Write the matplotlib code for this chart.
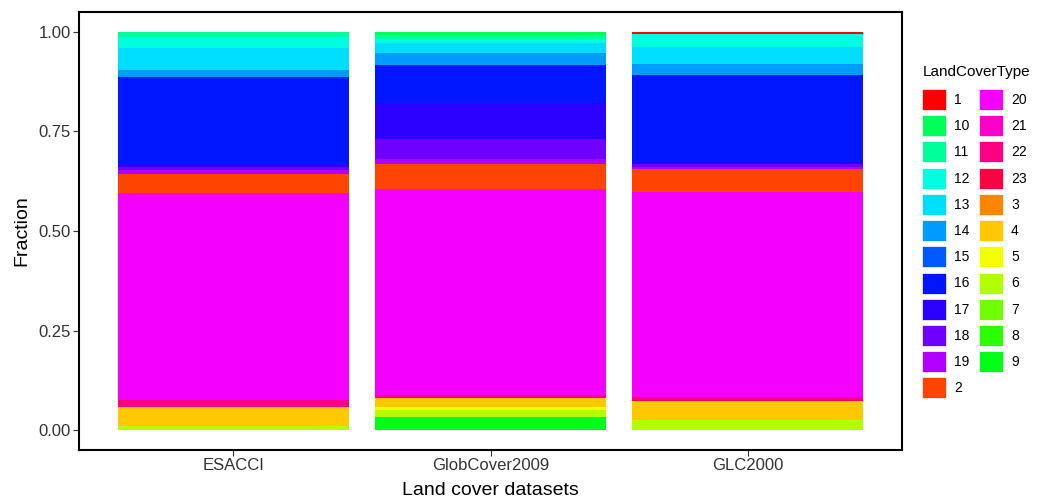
import matplotlib
matplotlib.use("Agg")
import matplotlib.pyplot as plt
from matplotlib.colors import hsv_to_rgb
from matplotlib.patches import Patch

plt.rcParams['font.family'] = ['Liberation Sans', 'DejaVu Sans']

datasets = ["ESACCI", "GlobCover2009", "GLC2000"]
types = list(range(1, 24))  # land cover types 1..23
esacci = [0, 0.048, 0, 0.048, 0, 0.011, 0, 0, 0, 0, 0.012, 0.028, 0.055, 0.019, 0,
          0.217, 0.008, 0.009, 0.008, 0.520, 0, 0.017, 0]
globcover = [0, 0.063, 0, 0.023, 0.006, 0.019, 0, 0, 0.032, 0.008, 0.010, 0.011, 0.023,
             0.031, 0, 0.096, 0.090, 0.050, 0.012, 0.517, 0, 0.009, 0]
glc2000 = [0.004, 0.057, 0, 0.048, 0, 0.025, 0, 0, 0, 0, 0, 0.034, 0.043, 0.028, 0,
           0.214, 0.008, 0.008, 0.006, 0.515, 0, 0.008, 0.002]
values = [esacci, globcover, glc2000]

n = len(types)
colors = {t: hsv_to_rgb((i / n, 1, 1)) for i, t in enumerate(types)}
levels = sorted([str(t) for t in types])  # factor order (alphabetical)

fig = plt.figure(figsize=(10.42, 4.99), dpi=100)
ax = fig.add_axes([79 / 1042, 49 / 499, 823 / 1042, 438 / 499])

xs = list(range(len(datasets)))
bottoms = [0.0] * len(datasets)
# ggplot stacks the first level on top, so draw the last level first
for lev in reversed(levels):
    t = int(lev)
    h = [values[j][t - 1] for j in range(len(datasets))]
    ax.bar(xs, h, width=0.9, bottom=bottoms, color=colors[t], linewidth=0)
    bottoms = [b + v for b, v in zip(bottoms, h)]

ax.set_xlim(-0.6, 2.6)
ax.set_ylim(-0.05, 1.05)
ax.set_xticks(xs)
ax.set_xticklabels(datasets, fontsize=12, color='#333333')
ax.set_yticks([0, 0.25, 0.5, 0.75, 1.0])
ax.set_yticklabels(["0.00", "0.25", "0.50", "0.75", "1.00"], fontsize=12, color='#333333')
ax.tick_params(length=4, width=0.8, color='#333333', pad=2)
for s in ax.spines.values():
    s.set_linewidth(1.5)
    s.set_color('black')
ax.set_xlabel("Land cover datasets", fontsize=14, labelpad=6)
ax.set_ylabel("Fraction", fontsize=14, labelpad=6)

fig.text(923 / 1042, 1 - 72 / 499, "LandCoverType", fontsize=11, ha='left', va='center')
handles = [Patch(facecolor=colors[int(l)], edgecolor='white', linewidth=0.5, label=l) for l in levels]
fs = 10
leg = fig.legend(handles=handles, ncol=2, loc='upper left',
                 bbox_to_anchor=(922 / 1042, (499 - 89) / 499),
                 frameon=False, fontsize=fs,
                 handlelength=1.7, handleheight=1.95, labelspacing=0.375,
                 handletextpad=0.6, columnspacing=0.7, borderpad=0, borderaxespad=0)

fig.savefig("out.png", dpi=100)
